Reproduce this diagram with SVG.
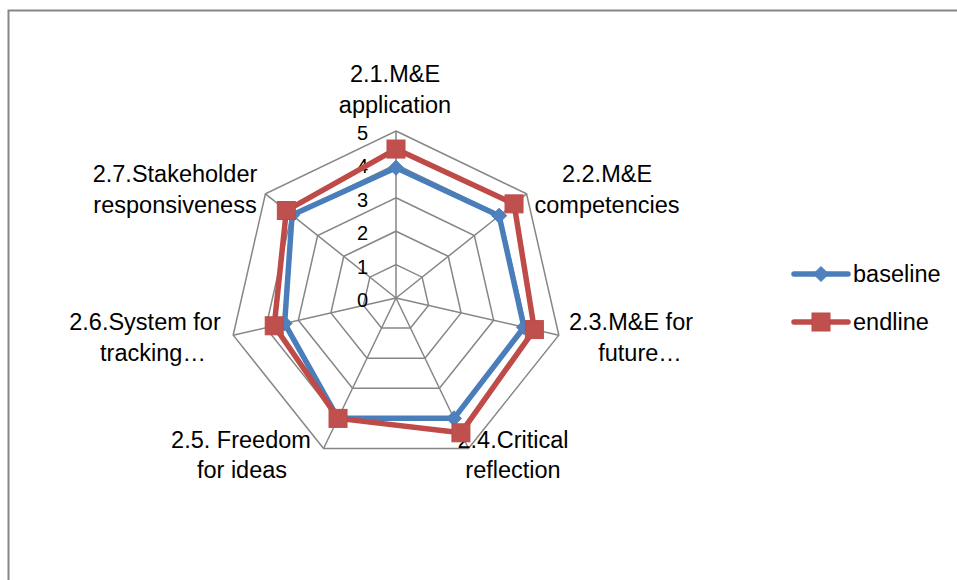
<svg xmlns="http://www.w3.org/2000/svg" width="957" height="580" viewBox="0 0 957 580">
<style>
.grid{fill:none;stroke:#868686;stroke-width:1.5}
.lbl{font-family:"Liberation Sans",Arial,sans-serif;font-size:23.5px;fill:#000;text-anchor:middle}
.ax{font-family:"Liberation Sans",Arial,sans-serif;font-size:20px;fill:#000;text-anchor:end}
.leg{font-family:"Liberation Sans",Arial,sans-serif;font-size:23.5px;fill:#000}
.bl{fill:none;stroke:#4A7EBB;stroke-width:5.5;stroke-linejoin:round;stroke-linecap:round}
.rl{fill:none;stroke:#BE4B48;stroke-width:5.5;stroke-linejoin:round;stroke-linecap:round}
.bm{fill:#4F81BD;stroke:#4A7EBB;stroke-width:1}
.rm{fill:#C0504D;stroke:#BE4B48;stroke-width:1}
</style>
<defs>
<path id="dia" d="M0,-7.5 L7.5,0 L0,7.5 L-7.5,0 Z"/>
<rect id="sq" x="-9" y="-9" width="18" height="18"/>
</defs>
<rect x="8.5" y="10.5" width="1200" height="900" fill="#fff" stroke="#868686" stroke-width="2"/>
<g id="grid">
<polygon class="grid" points="396,264.6 422.11,277.18 428.56,305.43 410.49,328.09 381.51,328.09 363.44,305.43 369.89,277.18"/>
<polygon class="grid" points="396,231.2 448.22,256.35 461.12,312.86 424.98,358.19 367.02,358.19 330.88,312.86 343.78,256.35"/>
<polygon class="grid" points="396,197.8 474.34,235.53 493.68,320.29 439.48,388.28 352.52,388.28 298.32,320.29 317.66,235.53"/>
<polygon class="grid" points="396,164.4 500.45,214.7 526.25,327.73 453.97,418.37 338.03,418.37 265.75,327.73 291.55,214.7"/>
<polygon class="grid" points="396,131 526.56,193.88 558.81,335.16 468.46,448.47 323.54,448.47 233.19,335.16 265.44,193.88"/>
<path class="grid" d="M396,298 L396,131 M396,298 L526.56,193.88 M396,298 L558.81,335.16 M396,298 L468.46,448.47 M396,298 L323.54,448.47 M396,298 L233.19,335.16 M396,298 L265.44,193.88"/>
</g>
<g id="axis-labels">
<text class="ax" x="368" y="307">0</text>
<text class="ax" x="368" y="273.6">1</text>
<text class="ax" x="368" y="240.2">2</text>
<text class="ax" x="368" y="206.8">3</text>
<text class="ax" x="368" y="173.4">4</text>
<text class="ax" x="368" y="140">5</text>
</g>
<g id="cat-2-1"><text class="lbl" x="395" y="82">2.1.M&amp;E</text><text class="lbl" x="395" y="113">application</text></g>
<g id="cat-2-2"><text class="lbl" x="607" y="182">2.2.M&amp;E</text><text class="lbl" x="607" y="213">competencies</text></g>
<g id="cat-2-3"><text class="lbl" x="631" y="330">2.3.M&amp;E for</text><text class="lbl" x="640" y="361">future…</text></g>
<g id="cat-2-4"><text class="lbl" x="513" y="448">2.4.Critical</text><text class="lbl" x="513" y="478">reflection</text></g>
<g id="cat-2-5"><text class="lbl" x="241" y="448">2.5. Freedom</text><text class="lbl" x="242" y="478">for ideas</text></g>
<g id="cat-2-6"><text class="lbl" x="145" y="330">2.6.System for</text><text class="lbl" x="153" y="361">tracking…</text></g>
<g id="cat-2-7"><text class="lbl" x="175" y="182">2.7.Stakeholder</text><text class="lbl" x="175" y="213">responsiveness</text></g>
<g id="connectors">
<polygon class="bl" points="396,167.74 499.14,215.74 523.97,327.21 453.97,418.37 338.03,418.37 284.64,323.42 292.07,215.12"/>
<polygon class="rl" points="396,149.04 514.03,203.87 534.39,329.58 460.93,432.82 338.03,418.37 274.22,325.79 286.33,210.53"/>
</g>
<g id="baseline-markers">
<use href="#dia" class="bm" x="396" y="167.74"/>
<use href="#dia" class="bm" x="499.14" y="215.74"/>
<use href="#dia" class="bm" x="523.97" y="327.21"/>
<use href="#dia" class="bm" x="453.97" y="418.37"/>
<use href="#dia" class="bm" x="338.03" y="418.37"/>
<use href="#dia" class="bm" x="284.64" y="323.42"/>
<use href="#dia" class="bm" x="292.07" y="215.12"/>
</g>
<g id="endline-markers">
<use href="#sq" class="rm" x="396" y="149.04"/>
<use href="#sq" class="rm" x="514.03" y="203.87"/>
<use href="#sq" class="rm" x="534.39" y="329.58"/>
<use href="#sq" class="rm" x="460.93" y="432.82"/>
<use href="#sq" class="rm" x="338.03" y="418.37"/>
<use href="#sq" class="rm" x="274.22" y="325.79"/>
<use href="#sq" class="rm" x="286.33" y="210.53"/>
</g>
<g id="legend">
<line class="bl" x1="794" y1="274" x2="848" y2="274"/>
<use href="#dia" class="bm" x="821" y="274"/>
<text class="leg" x="853" y="282">baseline</text>
<line class="rl" x1="794" y1="322" x2="848" y2="322"/>
<use href="#sq" class="rm" x="821" y="322"/>
<text class="leg" x="853" y="330">endline</text>
</g>
</svg>
